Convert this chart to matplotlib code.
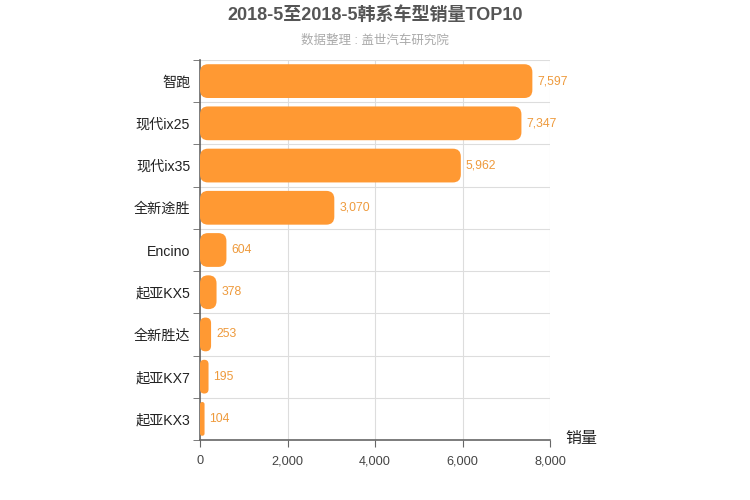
import matplotlib
matplotlib.use("Agg")
import matplotlib.pyplot as plt
from matplotlib.patches import FancyBboxPatch

plt.rcParams['font.family'] = ['Liberation Sans', 'Noto Sans CJK SC', 'DejaVu Sans']

models = ['智跑', '现代ix25', '现代ix35', '全新途胜', 'Encino',
          '起亚KX5', '全新胜达', '起亚KX7', '起亚KX3']
sales = [7597, 7347, 5962, 3070, 604, 378, 253, 195, 104]
xticks = [0, 2000, 4000, 6000, 8000]

bar_color = '#FF9933'
label_color = '#EE9A3C'

fig = plt.figure(figsize=(7.5, 5), dpi=100)
ax = fig.add_axes([200 / 750, 60 / 500, 350 / 750, 380 / 500])

xmax = 8000
n = len(models)
ax.set_xlim(0, xmax)
ax.set_ylim(n - 0.5, -0.5)

# rounded bars: convert pixel radius into data units
ax_w_px, ax_h_px = 350, 380
xu = xmax / ax_w_px          # x data per pixel
yu = n / ax_h_px             # y data per pixel
bar_h = 0.8
for i, v in enumerate(sales):
    w_px = v / xu
    r_px = min(8, w_px / 2)
    patch = FancyBboxPatch(
        (0, i - bar_h / 2), v, bar_h,
        boxstyle=f"round,pad=0,rounding_size={r_px * xu}",
        mutation_aspect=yu / xu,
        facecolor=bar_color, edgecolor='none', zorder=3)
    ax.add_patch(patch)
    ax.text(v + 5 * xu, i, f"{v:,}", va='center', ha='left',
            fontsize=8.8, color=label_color, zorder=4)

# category axis: labels at centres, ticks and grid at band edges
ax.set_yticks(range(n))
ax.set_yticklabels(models, fontsize=10.2, color='#222222')
ax.tick_params(axis='y', length=0, pad=7)
ax.set_yticks([i - 0.5 for i in range(n + 1)], minor=True)
ax.tick_params(axis='y', which='minor', length=5, color='#666666')
ax.grid(axis='y', which='minor', color='#dddddd', linewidth=0.8, zorder=0)

ax.set_xticks(xticks)
ax.set_xticklabels([f"{t:,}" for t in xticks], fontsize=9.2, color='#444444')
ax.tick_params(axis='x', length=5, color='#666666', pad=6)
ax.grid(axis='x', which='major', color='#dddddd', linewidth=0.8, zorder=0)

for s in ['top', 'right']:
    ax.spines[s].set_visible(False)
for s in ['left', 'bottom']:
    ax.spines[s].set_color('#666666')
    ax.spines[s].set_linewidth(1.2)
ax.set_axisbelow(True)

fig.text(0.5, 1 - 15 / 500, '2018-5至2018-5韩系车型销量TOP10', ha='center', va='center',
         fontsize=13, fontweight='bold', color='#555555')
fig.text(0.5, 1 - 41 / 500, '数据整理 : 盖世汽车研究院', ha='center', va='center',
         fontsize=9, color='#aaaaaa')
fig.text(581 / 750, 1 - 438 / 500, '销量', ha='center', va='center',
         fontsize=11.5, color='#222222')

fig.savefig('out.png', dpi=100)
